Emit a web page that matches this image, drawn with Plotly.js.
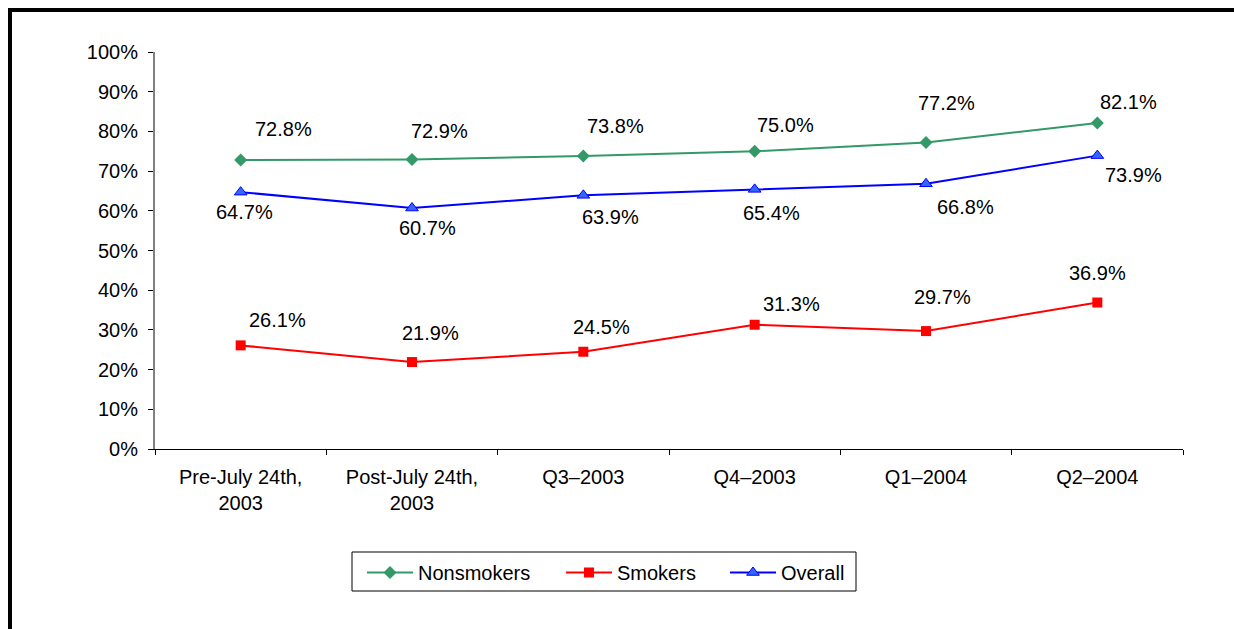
<!DOCTYPE html>
<html>
<head>
<meta charset="utf-8">
<script src="https://cdn.plot.ly/plotly-3.0.1.min.js"></script>
<style>
html,body{margin:0;padding:0;background:#fff;}
#chart{width:1234px;height:629px;}
</style>
</head>
<body>
<div id="chart"></div>
<script>
const categories = ["Pre-July 24th,<br>2003", "Post-July 24th,<br>2003", "Q3–2003", "Q4–2003", "Q1–2004", "Q2–2004"];
const nonsmokers = [72.8, 72.9, 73.8, 75.0, 77.2, 82.1];
const smokers = [26.1, 21.9, 24.5, 31.3, 29.7, 36.9];
const overall = [64.7, 60.7, 63.9, 65.4, 66.8, 73.9];
const yTickVals = [0, 10, 20, 30, 40, 50, 60, 70, 80, 90, 100];
const yTickText = ["0%", "10%", "20%", "30%", "40%", "50%", "60%", "70%", "80%", "90%", "100%"];

// label placement offsets (pixels) — style only
const nsShift = {x: [43, 27, 32, 31, 20, 31], y: [31, 29, 30, 26, 40, 21]};
const smShift = {x: [37, 18, 18, 37, 16, 0], y: [25, 29, 25, 21, 34, 30]};
const ovShift = {x: [4, 15, 27, 17, 39, 36], y: [-20, -20, -22, -24, -23, -19]};

const FONT = "Liberation Sans, Arial, sans-serif";
const FS = 20;

const traces = [
  {name: "Nonsmokers", legend: "legend", x: categories, y: nonsmokers, mode: "lines+markers", type: "scatter",
   line: {color: "#339966", width: 2}, marker: {symbol: "diamond", size: 10, color: "#339966"}},
  {name: "Smokers", legend: "legend2", x: categories, y: smokers, mode: "lines+markers", type: "scatter",
   line: {color: "#FF0000", width: 2}, marker: {symbol: "square", size: 10, color: "#FF0000"}},
  {name: "Overall", legend: "legend3", x: categories, y: overall, mode: "lines+markers", type: "scatter",
   line: {color: "#0000FF", width: 2}, marker: {symbol: "triangle-up", size: 11, color: "#3366FF", line: {color: "#0000FF", width: 1}}}
];

function labels(vals, shift) {
  return vals.map((v, i) => ({
    x: categories[i], y: v, xref: "x", yref: "y", text: v.toFixed(1) + "%", showarrow: false,
    xshift: shift.x[i], yshift: shift.y[i], font: {family: FONT, size: FS, color: "#000"}
  }));
}

const annotations = [].concat(labels(nonsmokers, nsShift), labels(smokers, smShift), labels(overall, ovShift));

const PL = 155, PW = 1028, PT = 52, PH = 397;
const px = v => (v - PL) / PW;
const py = v => 1 - (v - PT) / PH;

function legendAt(left) {
  return {orientation: "h", x: px(left), xanchor: "left", y: py(553), yanchor: "top",
          borderwidth: 0, bgcolor: "rgba(0,0,0,0)", itemwidth: 46,
          font: {family: FONT, size: FS, color: "#000"}};
}

const layout = {
  width: 1234, height: 629,
  margin: {l: PL, r: 1234 - PL - PW, t: PT, b: 629 - PT - PH},
  paper_bgcolor: "#fff", plot_bgcolor: "#fff",
  font: {family: FONT, size: FS, color: "#000"},
  showlegend: true,
  legend: legendAt(362),
  legend2: legendAt(561),
  legend3: legendAt(725),
  xaxis: {
    type: "category", range: [-0.5, 5.5],
    showgrid: false, zeroline: false, showline: true, linecolor: "#000", linewidth: 1,
    ticks: "outside", ticklen: 5, tickcolor: "#000", tickson: "boundaries", ticklabelstandoff: 10,
    tickfont: {family: FONT, size: FS, color: "#000"}, fixedrange: true
  },
  yaxis: {
    range: [0, 100], tickmode: "array", tickvals: yTickVals, ticktext: yTickText,
    showgrid: false, zeroline: false, showline: true, linecolor: "#808080", linewidth: 2,
    ticks: "outside", ticklen: 5, tickcolor: "#000", ticklabelstandoff: 6,
    tickfont: {family: FONT, size: FS, color: "#000"}, fixedrange: true
  },
  annotations: annotations,
  shapes: [
    {type: "rect", xref: "paper", yref: "paper", x0: px(352), x1: px(856), y0: py(552), y1: py(591),
     line: {color: "#000", width: 1}, fillcolor: "rgba(0,0,0,0)"},
    {type: "line", xref: "paper", yref: "paper", x0: px(8), x1: px(1234),
     y0: py(10), y1: py(10), line: {color: "#000", width: 4}},
    {type: "line", xref: "paper", yref: "paper", x0: px(10), x1: px(10),
     y0: py(8), y1: py(629), line: {color: "#000", width: 4}}
  ]
};

Plotly.newPlot("chart", traces, layout, {displayModeBar: false, staticPlot: true});
</script>
</body>
</html>
